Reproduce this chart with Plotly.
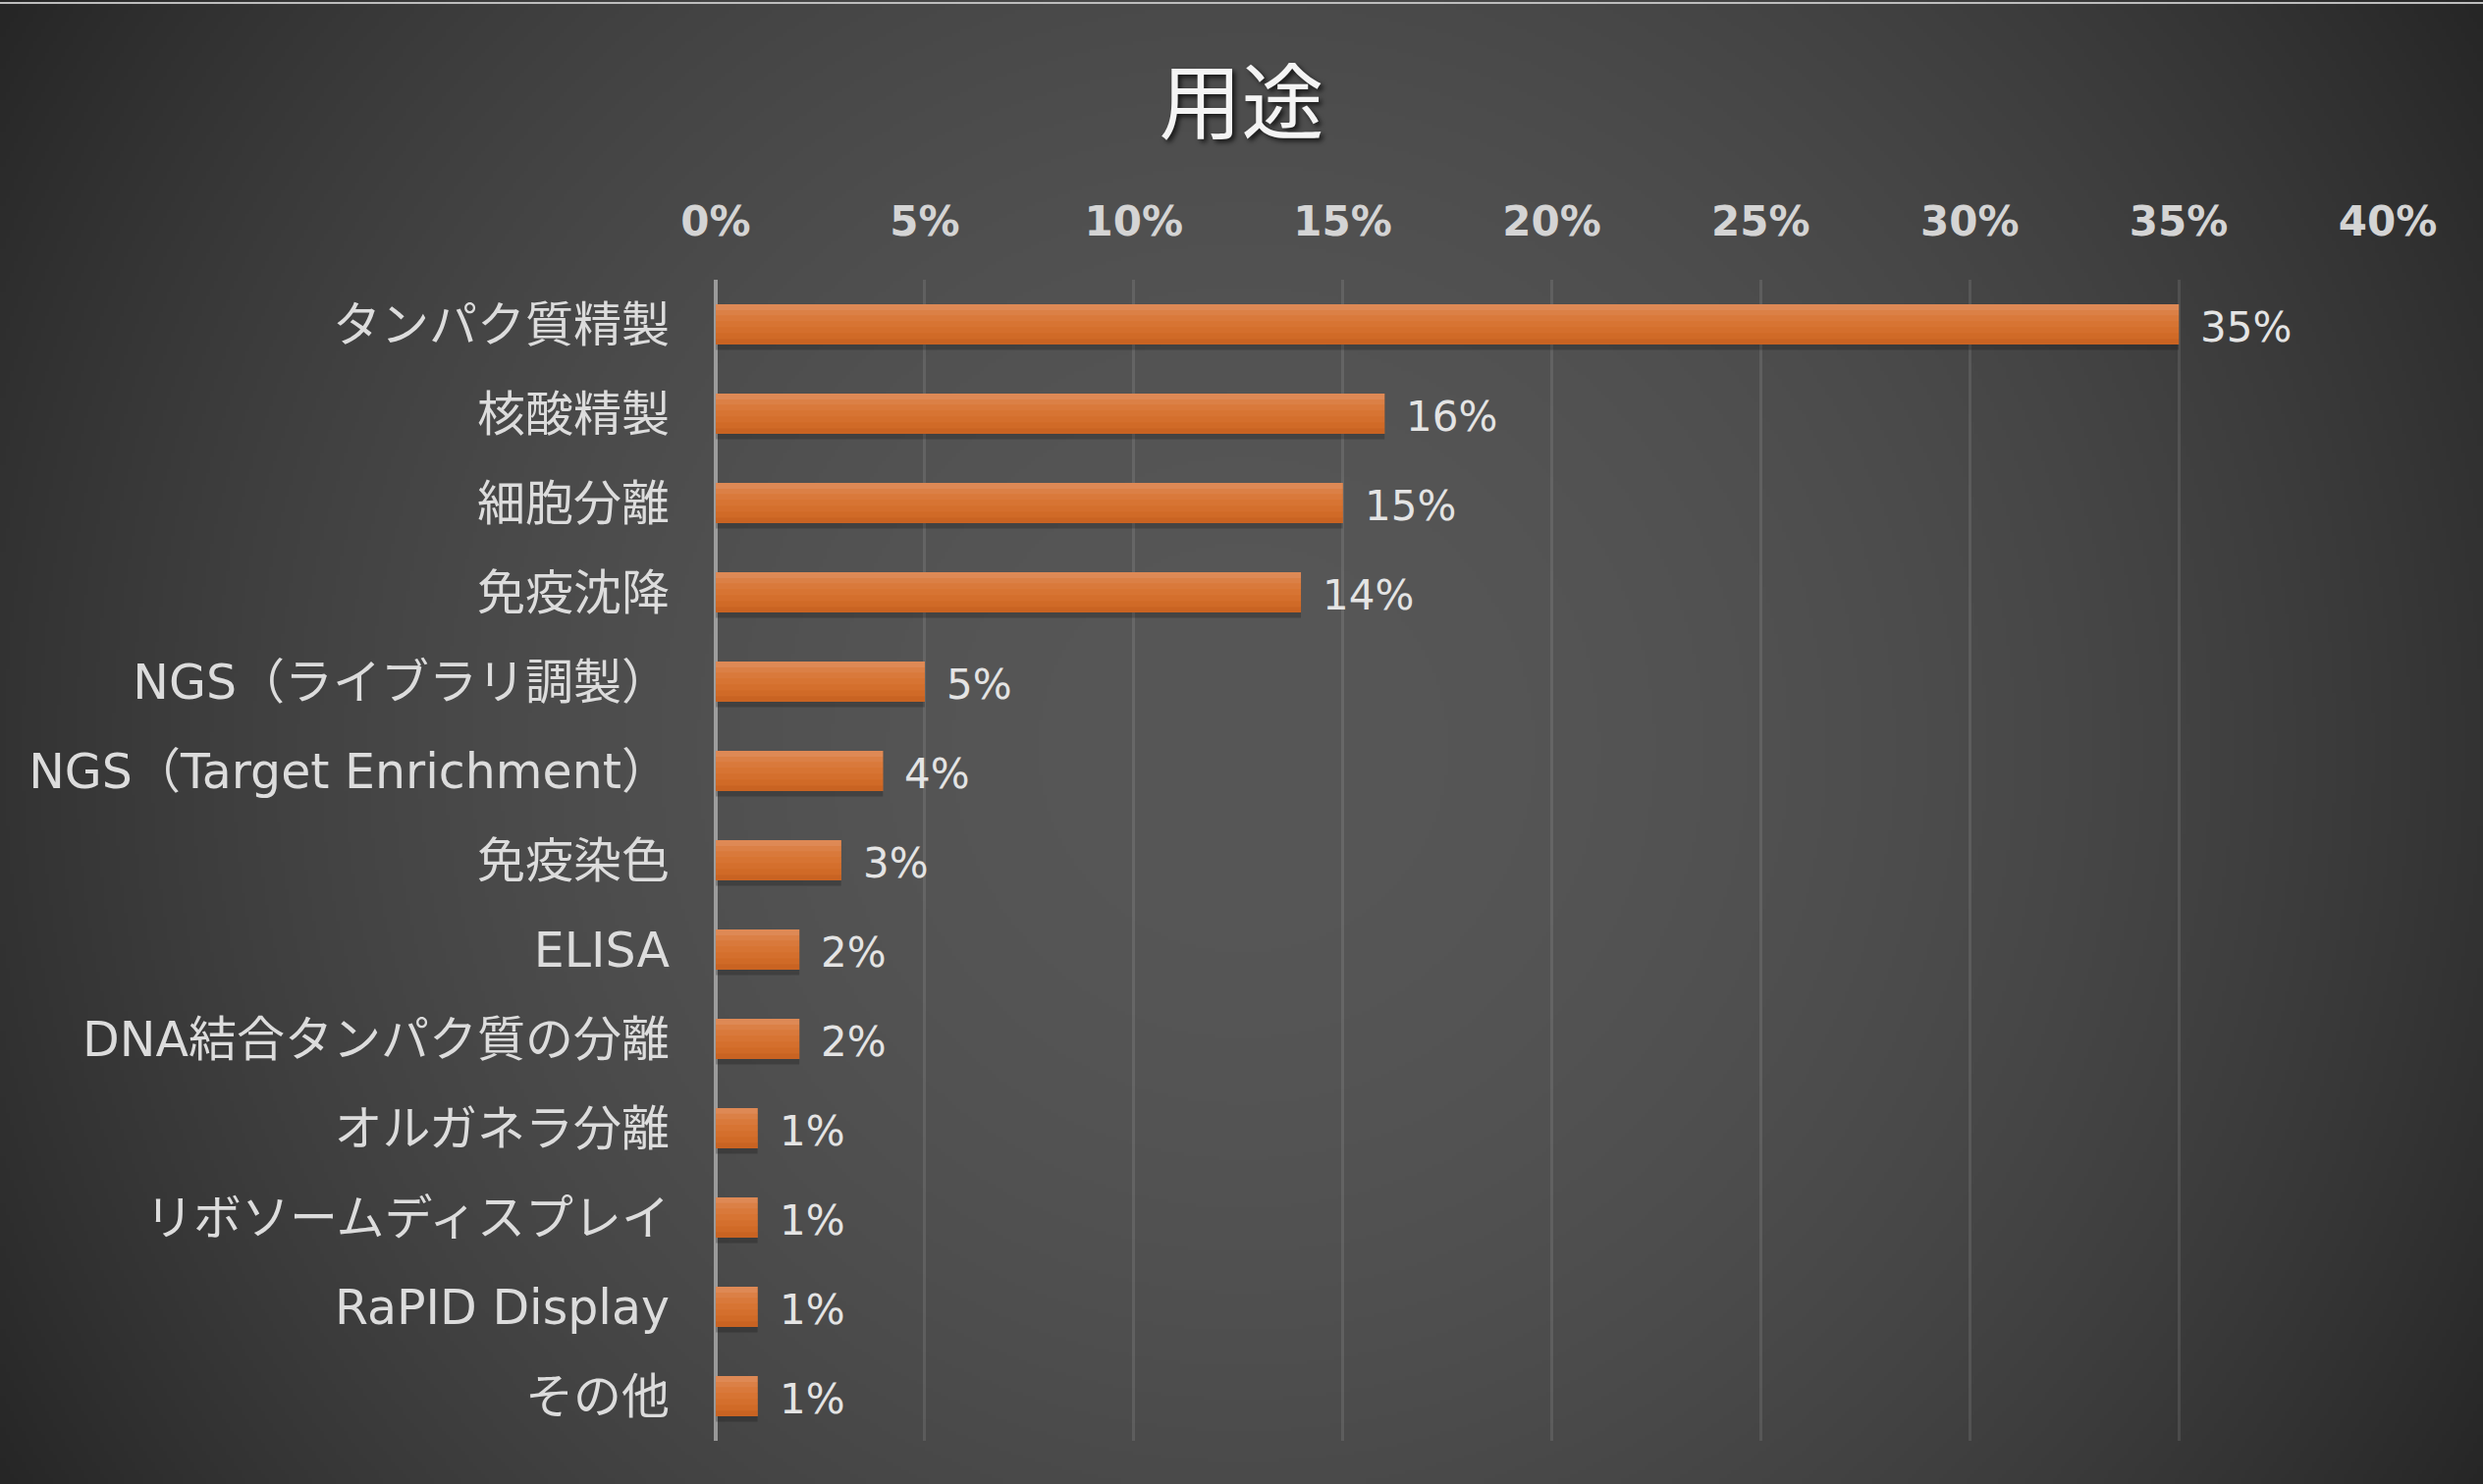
import base64
import struct
import zlib

import numpy as np
import plotly.graph_objects as go

# ---------------- data ----------------
categories = [
    "タンパク質精製",
    "核酸精製",
    "細胞分離",
    "免疫沈降",
    "NGS（ライブラリ調製）",
    "NGS（Target Enrichment）",
    "免疫染色",
    "ELISA",
    "DNA結合タンパク質の分離",
    "オルガネラ分離",
    "リボソームディスプレイ",
    "RaPID Display",
    "その他",
]
values = [35, 16, 15, 14, 5, 4, 3, 2, 2, 1, 1, 1, 1]
value_labels = [f"{v}%" for v in values]
title_text = "用途"

# ---------------- layout geometry ----------------
W, H = 2529, 1512
L, R, T, B = 729, 97, 285, 44
PW, PH = W - L - R, H - T - B


# ---------------- radial gradient background (PNG data URI) ----------------
def gray_png(arr):
    h, w = arr.shape
    raw = b"".join(b"\x00" + arr[i].tobytes() for i in range(h))

    def chunk(tag, data):
        c = struct.pack(">I", len(data)) + tag + data
        return c + struct.pack(">I", zlib.crc32(tag + data) & 0xFFFFFFFF)

    png = b"\x89PNG\r\n\x1a\n"
    png += chunk(b"IHDR", struct.pack(">IIBBBBB", w, h, 8, 0, 0, 0, 0))
    png += chunk(b"IDAT", zlib.compress(raw, 9))
    png += chunk(b"IEND", b"")
    return "data:image/png;base64," + base64.b64encode(png).decode()


s = 4
gw, gh = W // s, H // s
yy, xx = np.mgrid[0:gh, 0:gw].astype(float)
d = np.hypot(xx - 1264 / s, yy - 760 / s) / (1473 / s)
bg = np.clip(87 - 49 * d ** 2, 30, 95).astype(np.uint8)
bg_src = gray_png(bg)

# ---------------- figure ----------------
fig = go.Figure()

# soft shadow under bars
fig.add_trace(go.Bar(
    y=categories, x=values, orientation="h",
    width=0.06, offset=0.225,
    marker=dict(color="rgba(0,0,0,0.20)", line=dict(width=0)),
    hoverinfo="skip", showlegend=False,
))

# base bar
fig.add_trace(go.Bar(
    y=categories, x=values, orientation="h",
    width=0.45, offset=-0.225,
    marker=dict(color="#d6742f", line=dict(width=0)),
    showlegend=False,
))

# thin horizontal bands on top to imitate a vertical gradient
band_colors = ["#de8955", "#db8046", "#d9793b", "#d77433", "#d46f2d", "#d06a27", "#c96322"]
n_b = len(band_colors)
bw = 0.45 / n_b
for i, col in enumerate(band_colors):
    fig.add_trace(go.Bar(
        y=categories, x=values, orientation="h",
        width=bw, offset=-0.225 + i * bw,
        marker=dict(color=col, line=dict(width=0)),
        hoverinfo="skip", showlegend=False,
    ))

annotations = [
    dict(
        x=v, y=c, text=t, xref="x", yref="y",
        xanchor="left", yanchor="middle", xshift=20, yshift=-3,
        showarrow=False,
        font=dict(family="DejaVu Sans", size=42, color="#e4e4e4"),
    )
    for v, c, t in zip(values, categories, value_labels)
]

fig.update_layout(
    width=W, height=H, autosize=False,
    margin=dict(l=L, r=R, t=T, b=B, pad=0),
    paper_bgcolor="#2b2b2b",
    plot_bgcolor="rgba(0,0,0,0)",
    barmode="overlay",
    title=dict(
        text=title_text,
        x=0.5, xref="container", xanchor="center",
        y=1 - 106 / H, yref="container", yanchor="middle",
        font=dict(family="Noto Sans CJK JP", size=84, color="#f4f4f4",
                  shadow="3px 3px 5px rgba(0,0,0,0.7)"),
    ),
    xaxis=dict(
        range=[0, 40], dtick=5, tick0=0, ticksuffix="%",
        side="top",
        showgrid=True, gridcolor="rgba(255,255,255,0.10)", gridwidth=3,
        zeroline=True, zerolinecolor="rgba(220,220,220,0.55)", zerolinewidth=4,
        showline=False, ticks="",
        tickfont=dict(family="DejaVu Sans", size=42, color="#d4d4d4", weight="bold"),
        ticklabelstandoff=36,
        fixedrange=True,
    ),
    yaxis=dict(
        type="category", autorange="reversed",
        showgrid=False, zeroline=False, showline=False, ticks="",
        tickfont=dict(family="DejaVu Sans, Noto Sans CJK JP", size=49, color="#dcdcdc"),
        ticklabelstandoff=46,
        fixedrange=True,
    ),
    images=[dict(
        source=bg_src, xref="paper", yref="paper",
        x=-L / PW, y=1 + T / PH, sizex=W / PW, sizey=H / PH,
        xanchor="left", yanchor="top", sizing="stretch", layer="below",
    )],
    shapes=[dict(
        type="line", xref="paper", yref="paper",
        x0=-L / PW, x1=1 + R / PW, y0=1 + (T - 3) / PH, y1=1 + (T - 3) / PH,
        line=dict(color="#bdbdbd", width=2), layer="above",
    )],
    annotations=annotations,
    showlegend=False,
)

fig.write_html("out.html", include_plotlyjs=True, config={"displayModeBar": False})
